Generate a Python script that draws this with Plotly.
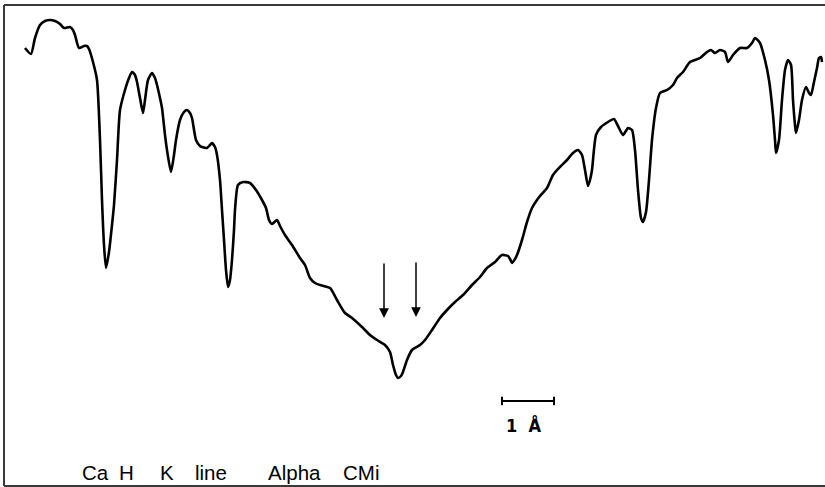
import plotly.graph_objects as go

# Traced spectrum (position along dispersion, relative intensity)
pos = [25,31,35,40,45,50,55,60,64,70,73,75,79,84,87,89,93,97,100,102,104,106,109,112,114,117,120,125,129,132,135,137,140,143,145,148,152,155,157,160,162,165,167,171,174,176,180,184,187,190,192,196,200,202,207,210,212,215,217,220,222,224,226,228,230,232,234,235,238,243,250,256,262,266,269,272,277,280,285,292,300,305,310,315,320,330,337,345,352,362,370,377,385,390,393,396,398,401,403,407,412,420,425,432,440,447,455,463,472,480,487,495,502,508,510,512,515,517,522,527,532,537,540,547,553,560,567,573,578,582,585,588,590,592,596,601,608,614,618,623,628,632,635,638,641,643,646,649,652,656,660,667,673,677,683,690,700,707,711,715,720,725,728,733,740,747,752,755,760,765,769,773,775,776,779,782,785,788,791,793,795,796,799,802,806,809,811,814,817,819,821,822]
depth = [48,54,38,25,21,20,21,24,28,27,30,35,48,46,46,49,62,80,140,200,245,268,252,225,205,160,110,90,78,72,75,82,98,113,100,80,73,78,85,98,108,135,150,172,155,140,120,112,110,113,118,140,146,147,148,145,143,147,155,180,210,240,270,287,280,260,230,210,185,182,183,190,200,208,220,224,220,226,235,245,258,265,278,283,285,288,300,313,318,327,335,340,345,352,365,375,378,376,372,360,350,345,340,330,318,310,302,295,285,277,268,262,255,256,259,263,259,255,240,222,208,200,196,188,175,167,160,153,150,155,170,186,180,170,135,127,122,119,126,135,128,130,150,190,218,222,212,180,140,108,93,90,85,78,72,62,58,52,50,53,50,52,62,55,48,48,43,38,43,60,80,115,140,153,140,100,70,60,65,100,125,133,120,100,87,93,95,82,68,58,57,62]
FULL = 487
intensity = [FULL - d for d in depth]

# Arrows marking features
arrow_pos = [384, 416]
arrow_top = [225, 226]
arrow_tip = [169, 170]

# Scale bar (1 Angstrom)
bar_pos = [502, 554]
bar_level = 86
bar_label = "1  Å"

# Bottom caption words
caption_words = ["Ca", "H", "K", "line", "Alpha", "CMi"]
caption_pos = [82, 119, 160, 195, 268, 343]
caption_level = 15

fig = go.Figure()
fig.add_trace(go.Scatter(x=pos, y=intensity, mode="lines",
                         line=dict(color="black", width=2.6, shape="spline", smoothing=0.6),
                         hoverinfo="skip", showlegend=False))

# scale bar
fig.add_trace(go.Scatter(x=bar_pos, y=[bar_level, bar_level], mode="lines+markers",
                         line=dict(color="black", width=1.8),
                         marker=dict(symbol="line-ns", size=6, line=dict(color="black", width=2)),
                         hoverinfo="skip", showlegend=False))

for xp, yt, yb in zip(arrow_pos, arrow_top, arrow_tip):
    fig.add_annotation(x=xp, y=yb, ax=xp, ay=yt, xref="x", yref="y", axref="x", ayref="y",
                       showarrow=True, arrowhead=2, arrowsize=1.3, arrowwidth=1.5,
                       arrowcolor="black", text="")

fig.add_annotation(x=sum(bar_pos) / 2 - 4, y=bar_level - 24, xref="x", yref="y",
                   text="<b>" + bar_label + "</b>", showarrow=False,
                   font=dict(family="DejaVu Sans Condensed, Liberation Sans Narrow, Arial", size=18, color="black"),
                   xanchor="center", yanchor="middle")

for w, xp in zip(caption_words, caption_pos):
    fig.add_annotation(x=xp, y=caption_level, xref="x", yref="y", text=w, showarrow=False,
                       font=dict(family="Liberation Sans, Arial", size=20.5, color="black"),
                       xanchor="left", yanchor="middle", xshift=-2)

# frame (left, top, bottom edges)
frame_col = "#3a3a3a"
fig.add_shape(type="line", x0=4, x1=4, y0=1, y1=482, xref="x", yref="y", line=dict(color=frame_col, width=2))
fig.add_shape(type="line", x0=4, x1=826, y0=482, y1=482, xref="x", yref="y", line=dict(color=frame_col, width=2))
fig.add_shape(type="line", x0=4, x1=826, y0=1, y1=1, xref="x", yref="y", line=dict(color=frame_col, width=2))

fig.update_layout(width=825, height=487, margin=dict(l=0, r=0, t=0, b=0),
                  paper_bgcolor="white", plot_bgcolor="white",
                  xaxis=dict(range=[0, 825], visible=False, fixedrange=True),
                  yaxis=dict(range=[0, FULL], visible=False, fixedrange=True))

fig.write_html("out.html", config={"displayModeBar": False, "staticPlot": True},
               post_script="document.documentElement.style.overflow='hidden';document.body.style.margin='0';document.body.style.overflow='hidden';")
